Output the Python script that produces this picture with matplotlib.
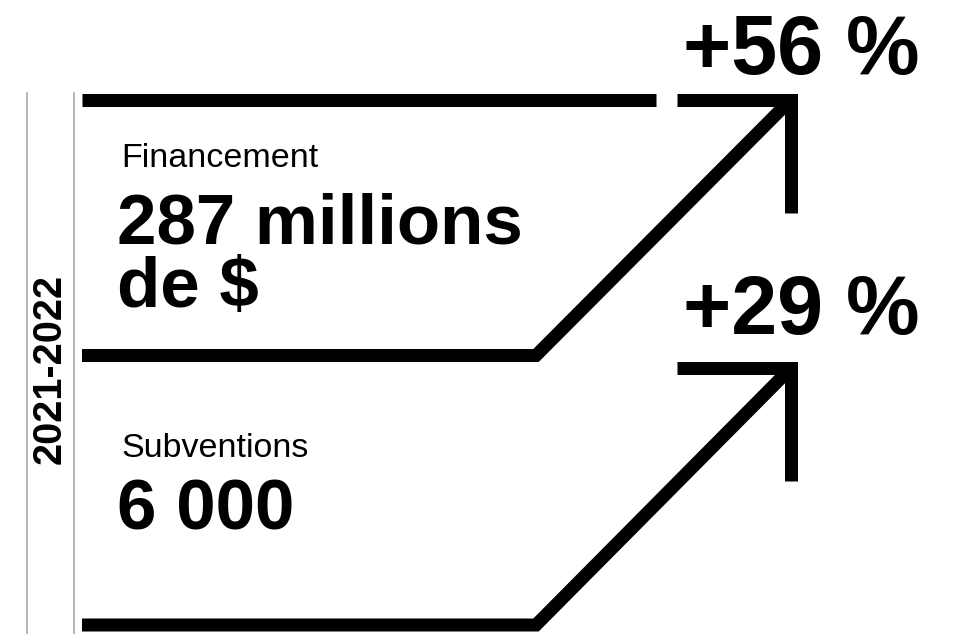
import matplotlib
matplotlib.use("Agg")
import matplotlib.pyplot as plt

# ---- data ----
period = "2021-2022"
categories = ["Financement", "Subventions"]
values = ["287 millions\nde $", "6 000"]
changes = [56, 29]

FONT = ["Liberation Sans", "DejaVu Sans"]

fig = plt.figure(figsize=(9.64, 6.34), dpi=100)
ax = fig.add_axes([0, 0, 1, 1])
ax.set_xlim(0, 964)
ax.set_ylim(634, 0)
ax.axis("off")

lw = 13 * 72 / 100  # 13 px stroke
kw = dict(color="black", lw=lw, solid_capstyle="butt", solid_joinstyle="miter")

# gray guide lines
for gx in (27, 74):
    ax.plot([gx, gx], [93, 634], color="#a8a8a8", lw=1.2)

# year label
ax.text(50, 369, period, rotation=90, ha="center", va="center",
        fontsize=28.5, fontweight="bold", family=FONT)

# top rule
ax.plot([82, 656], [99.5, 99.5], **kw)

# arrows
base_y = [355.5, 625]
head_y = [99.5, 368]
pct_base = [74, 334]
bend_x = 536
tip_x = 791
for i, (cat, val, ch) in enumerate(zip(categories, values, changes)):
    by, hy = base_y[i], head_y[i]
    ax.plot([82, bend_x, tip_x], [by, by, hy], **kw)
    ax.plot([677, tip_x, tip_x], [hy, hy, hy + 113], **kw)
    ax.text(683, pct_base[i], f"+{ch} %", ha="left", va="baseline",
            fontsize=59.5, fontweight="bold", family=FONT)

# labels
label_base = [167, 457]
value_base = [[243, 307], [530]]
for i, (cat, val) in enumerate(zip(categories, values)):
    ax.text(121, label_base[i], cat, ha="left", va="baseline",
            fontsize=24.5, family=FONT)
    for line, yb in zip(val.split("\n"), value_base[i]):
        ax.text(117, yb, line, ha="left", va="baseline", fontsize=51,
                fontweight="bold", family=FONT)

fig.savefig("out.png", dpi=100, facecolor="white")
